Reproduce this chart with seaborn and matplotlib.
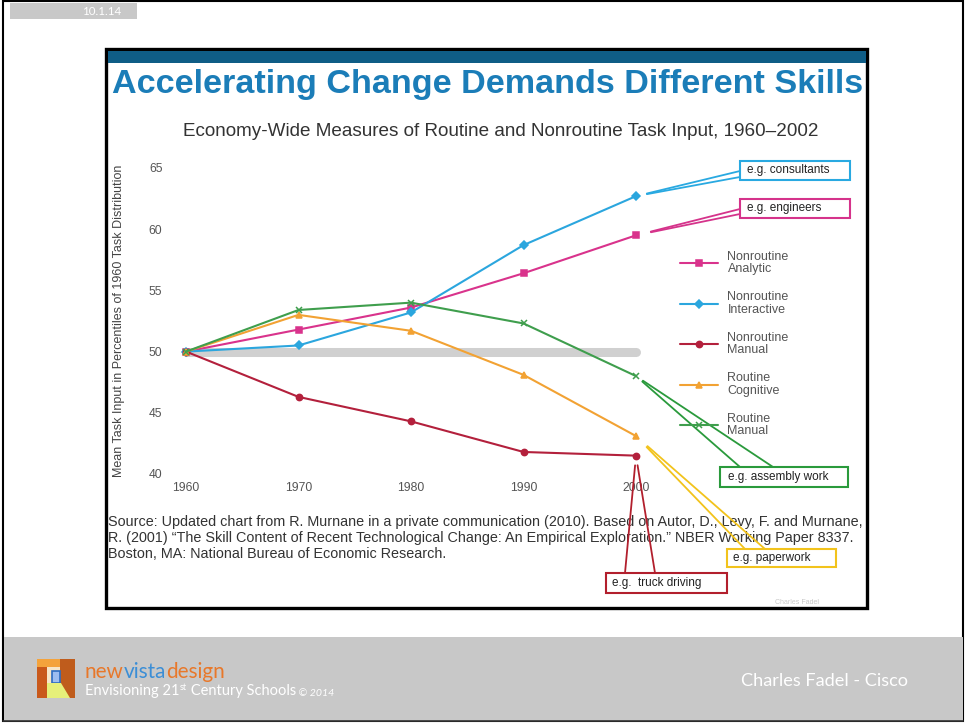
import matplotlib
matplotlib.use("Agg")
import matplotlib.pyplot as plt
import matplotlib.colors as mcolors
import seaborn as sns
import pandas as pd
import numpy as np
from matplotlib.patches import Rectangle, Polygon

# ---------------- data ----------------
years = [1960, 1970, 1980, 1990, 2000]
nonroutine_analytic = [50.0, 51.8, 53.6, 56.4, 59.5]
nonroutine_interactive = [50.0, 50.5, 53.2, 58.7, 62.7]
nonroutine_manual = [50.0, 46.3, 44.3, 41.8, 41.5]
routine_cognitive = [50.0, 53.0, 51.7, 48.1, 43.1]
routine_manual = [50.0, 53.4, 54.0, 52.3, 48.0]
series_names = ["Nonroutine\nAnalytic", "Nonroutine\nInteractive", "Nonroutine\nManual",
                "Routine\nCognitive", "Routine\nManual"]
series_colors = ["#d9338c", "#2ba6de", "#b3203c", "#f2a233", "#3f9e4d"]
series_markers = ["s", "D", "o", "^", "X"]  # last one redrawn as line-art 'x'
x_ticks = [1960, 1970, 1980, 1990, 2000]
y_ticks = [40, 45, 50, 55, 60, 65]
baseline_value = 50
callout_texts = ["e.g. consultants", "e.g. engineers", "e.g. assembly work",
                 "e.g. paperwork", "e.g.  truck driving"]

title_text = "Accelerating Change Demands Different Skills"
subtitle_text = "Economy-Wide Measures of Routine and Nonroutine Task Input, 1960\u20132002"
ylabel_text = "Mean Task Input in Percentiles of 1960 Task Distribution"
source_lines = [
    "Source: Updated chart from R. Murnane in a private communication (2010). Based on Autor, D., Levy, F. and Murnane,",
    "R. (2001) \u201cThe Skill Content of Recent Technological Change: An Empirical Exploration.\u201d NBER Working Paper 8337.",
    "Boston, MA: National Bureau of Economic Research.",
]

# ---------------- setup ----------------
sns.set_theme(style="white")
plt.rcParams["font.family"] = ["Liberation Sans", "DejaVu Sans"]

W, H = 965, 723
fig = plt.figure(figsize=(W / 100, H / 100), dpi=100)
fig.patch.set_facecolor("white")

bg = fig.add_axes([0, 0, 1, 1], zorder=0)
bg.set_xlim(0, W)
bg.set_ylim(H, 0)
bg.axis("off")

renderer = fig.canvas.get_renderer()


def fit_width(t, px):
    bb = t.get_window_extent(renderer)
    t.set_fontsize(t.get_fontsize() * px / bb.width)


def fit_height(t, px):
    bb = t.get_window_extent(renderer)
    t.set_fontsize(t.get_fontsize() * px / bb.height)


def fit_group(texts, px, extra=()):
    total = sum(t.get_window_extent(renderer).width for t in texts)
    k = px / total
    for t in list(texts) + list(extra):
        t.set_fontsize(t.get_fontsize() * k)


# slide frame, footer, date tag
bg.add_patch(Rectangle((3, 1), 960, 720, facecolor="white", edgecolor="black", lw=1.5, zorder=0))
bg.add_patch(Rectangle((3.5, 637), 959, 83.5, facecolor="#c8c8c8", edgecolor="none", zorder=1))
bg.plot([3, 963], [720.5, 720.5], color="#333333", lw=1.2, zorder=2)
bg.add_patch(Rectangle((10, 3), 127, 16, facecolor="#c8c8c8", edgecolor="none", zorder=1))
tag = bg.text(102, 11.5, "10.1.14", color="white", ha="center", va="center", fontsize=9,
              family=["Lato", "DejaVu Sans"], zorder=3)
fit_width(tag, 39)

# chart frame + top band
bg.add_patch(Rectangle((106, 49), 761, 559, facecolor="white", edgecolor="black", lw=2.4, zorder=1))
bg.add_patch(Rectangle((107.5, 50.5), 758, 12, facecolor="#0f5d86", edgecolor="none", zorder=2))

title = bg.text(112, 93, title_text, color="#1b7db8", fontweight="bold", ha="left",
                va="baseline", fontsize=22, zorder=3)
fit_width(title, 750)

sub = bg.text(183, 132, subtitle_text, color="#333333", ha="left", va="center", fontsize=12, zorder=3)
fit_width(sub, 640)

src = []
for i, line in enumerate(source_lines):
    src.append(bg.text(108, 522 + 16 * i, line, color="#333333", ha="left", va="center",
                       fontsize=10, zorder=3))
fit_width(src[0], 754)
for s in src[1:]:
    s.set_fontsize(src[0].get_fontsize())

bg.text(797, 602, "Charles Fadel", color="#c8c8c8", fontsize=5, ha="center", va="center", zorder=3)

# ---------------- main chart ----------------
ax = fig.add_axes([186 / W, (H - 474) / H, 450 / W, 306 / H], zorder=2)
ax.patch.set_alpha(0)

df = pd.DataFrame({
    "year": years * len(series_names),
    "value": nonroutine_analytic + nonroutine_interactive + nonroutine_manual
             + routine_cognitive + routine_manual,
    "series": [n for n in series_names for _ in years],
})

ax.plot([years[0], years[-1]], [baseline_value, baseline_value], color="#d0d0d0", lw=6.5,
        solid_capstyle="round", zorder=1, clip_on=False)

sns.lineplot(data=df, x="year", y="value", hue="series", style="series",
             hue_order=series_names, style_order=series_names,
             palette=dict(zip(series_names, series_colors)),
             markers=dict(zip(series_names, series_markers)), dashes=False,
             linewidth=1.5, markersize=4.5, ax=ax, legend="full", zorder=3)


def restyle(ln):
    if ln.get_marker() in (None, "None", ""):
        return
    c = ln.get_color()
    if mcolors.same_color(c, series_colors[4]):
        ln.set_marker("x")
        ln.set_markersize(4.5)
    if mcolors.same_color(c, series_colors[1]):
        ln.set_markersize(3.8)
    ln.set_markeredgecolor(c)
    ln.set_markerfacecolor(c)
    ln.set_markeredgewidth(1.1)


for ln in ax.lines:
    ln.set_clip_on(False)
    restyle(ln)

ax.set_xlim(1960, 2000)
ax.set_ylim(40, 65)
ax.set_xticks(x_ticks)
ax.set_yticks(y_ticks)
ax.set_xticklabels([str(v) for v in x_ticks])
ax.set_yticklabels([str(v) for v in y_ticks])
ax.tick_params(axis="both", length=0, labelsize=8.7, labelcolor="#555555")
ax.tick_params(axis="y", pad=17)
ax.tick_params(axis="x", pad=6)
for sp in ax.spines.values():
    sp.set_visible(False)
ax.grid(False)
ax.set_xlabel("")
ylab = ax.set_ylabel(ylabel_text, color="#444444", fontsize=8)
ax.yaxis.set_label_coords(125, 321, transform=bg.transData)
fit_height(ylab, 313)

# legend
old = ax.get_legend()
handles = list(old.legend_handles)
labels = [t.get_text() for t in old.get_texts()]
old.remove()
for h in handles:
    restyle(h)
leg = ax.legend(handles, labels, loc="upper left", bbox_to_anchor=(680, 251),
                bbox_transform=bg.transData, frameon=False, fontsize=9, borderpad=0,
                borderaxespad=0, handlelength=3.0, handletextpad=0.8, labelspacing=1.28)
for t in leg.get_texts():
    t.set_color("#555555")
    t.set_linespacing(1.05)

# callouts
callouts = [
    (callout_texts[0], nonroutine_interactive[-1], "#29a9e1",
     (740, 161, 110, 19), [(740, 171), (740, 177)], 8, 747),
    (callout_texts[1], nonroutine_analytic[-1], "#d5338b",
     (740, 199, 110, 19), [(740, 209), (740, 214)], 11, 747),
    (callout_texts[2], routine_manual[-1], "#2a9a3c",
     (720, 467, 128, 20), [(740, 467), (773, 467)], 6, 728),
    (callout_texts[3], routine_cognitive[-1], "#f2c31c",
     (727, 549, 109, 18), [(745, 549), (765, 549)], 11, 733),
    (callout_texts[4], nonroutine_manual[-1], "#b21f2d",
     (606, 573, 121, 20), [(625, 573), (655, 573)], 7, 612),
]
for text, yval, bcol, (bx, by, bw, bh), ends, shrink, tx in callouts:
    for ex, ey in ends:
        ax.annotate("", xy=(years[-1], yval), xycoords="data", xytext=(ex, ey),
                    textcoords=bg.transData, annotation_clip=False,
                    arrowprops=dict(arrowstyle="-", color=bcol, lw=1.3, shrinkA=0,
                                    shrinkB=shrink))
    bg.add_patch(Rectangle((bx, by), bw, bh, facecolor="white", edgecolor=bcol, lw=1.5, zorder=4))
    bg.text(tx, by + bh / 2, text, color="#222222", fontsize=8.5, ha="left", va="center", zorder=5)

# ---------------- footer ----------------
bg.add_patch(Rectangle((37, 659), 23, 8, facecolor="#f4a33c", edgecolor="none", zorder=3))
bg.add_patch(Rectangle((37, 667), 10, 31, facecolor="#c9591b", edgecolor="none", zorder=3))
bg.add_patch(Rectangle((47, 667), 13, 16, facecolor="#f7e6c8", edgecolor="none", zorder=3))
bg.add_patch(Rectangle((51.5, 670.5), 8.5, 12.5, facecolor="#9dbdf0", edgecolor="#2d6cc0",
                       lw=1.2, zorder=4))
bg.add_patch(Rectangle((60, 659), 15, 39, facecolor="#bf5c1c", edgecolor="none", zorder=3))
bg.add_patch(Polygon([(47, 683), (61, 683), (70, 698), (47, 698)], closed=True,
                     facecolor="#e6f07a", edgecolor="none", zorder=4))

ff = ["Lato", "DejaVu Sans"]
t1 = bg.text(85, 682, "new", color="#e8782a", fontsize=13, family=ff, fontweight="normal",
             ha="left", va="bottom", zorder=5)
t2 = bg.annotate("vista", xy=(1, 0), xycoords=t1, color="#3b8ed6", fontsize=13, family=ff,
                 fontweight="normal", ha="left", va="bottom", zorder=5)
t3 = bg.annotate("design", xy=(1, 0), xycoords=t2, color="#e8782a", fontsize=13, family=ff,
                 fontweight="normal", ha="left", va="bottom", zorder=5)
fit_group([t1, t2, t3], 140)

e1 = bg.text(85, 698, "Envisioning 21", color="white", fontsize=10.5, family=ff,
             fontweight="normal", ha="left", va="bottom", zorder=5)
e2 = bg.annotate("st", xy=(1, 0.45), xycoords=e1, color="white", fontsize=6.5, family=ff,
                 fontweight="normal", ha="left", va="bottom", zorder=5)
e3 = bg.annotate(" Century Schools", xy=(1, 0), xycoords=(e2, e1), color="white",
                 fontsize=10.5, family=ff, fontweight="normal", ha="left", va="bottom", zorder=5)
e4 = bg.annotate(" \u00a9 2014", xy=(1, 0), xycoords=e3, color="white", fontsize=7.5, family=ff,
                 style="italic", ha="left", va="bottom", zorder=5)
fit_group([e1, e2, e3], 212, extra=[e4])

cf = bg.text(741, 681, "Charles Fadel - Cisco", color="white", fontsize=13, family=ff,
             fontweight="normal", ha="left", va="center", zorder=5)
fit_width(cf, 167)

fig.savefig("out.png", dpi=100)
